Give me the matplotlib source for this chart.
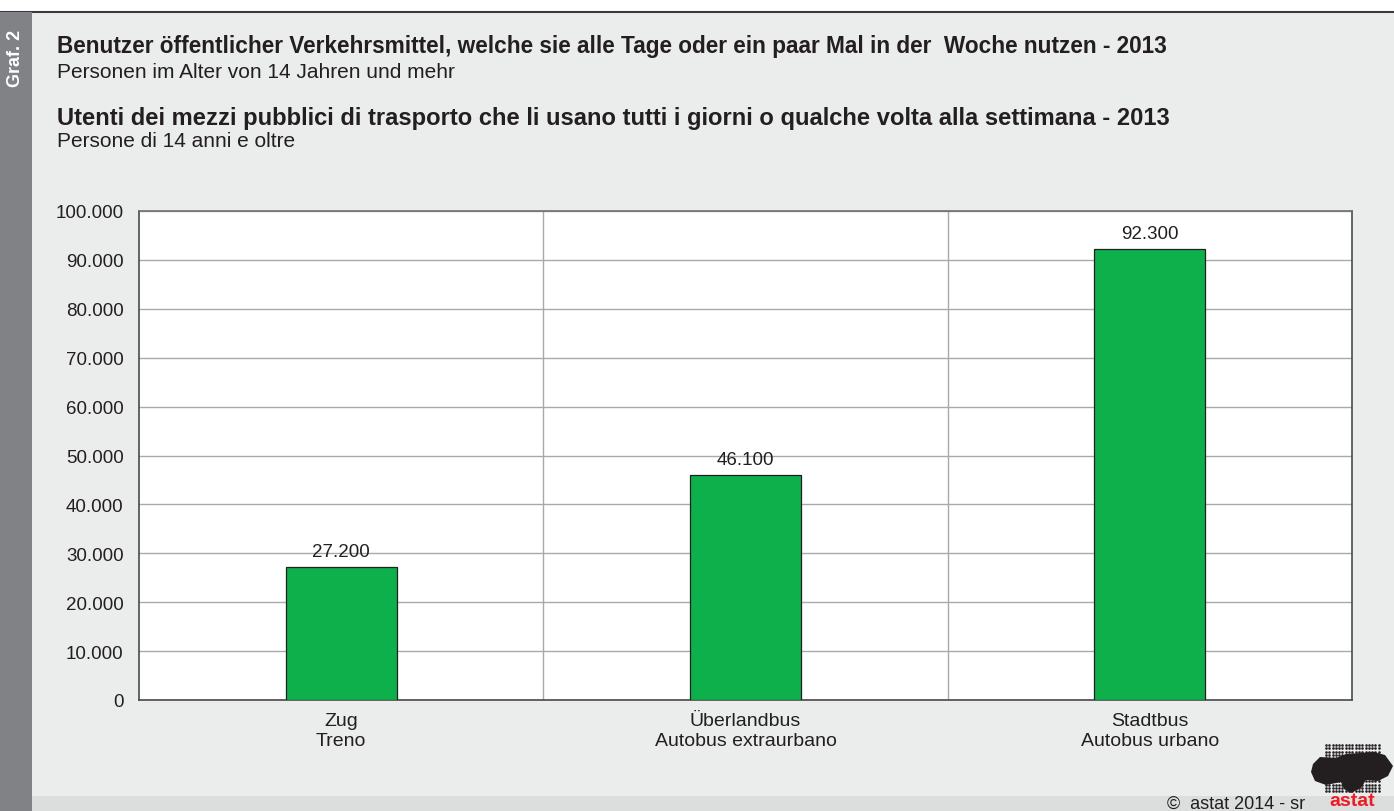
import numpy as np
import matplotlib
matplotlib.use('Agg')
import matplotlib.pyplot as plt
from matplotlib.patches import Rectangle, Polygon

# Chart data.
categories = ['Zug\nTreno', 'Überlandbus\nAutobus extraurbano', 'Stadtbus\nAutobus urbano']
values = [27200, 46100, 92300]
yticks = [0, 10000, 20000, 30000, 40000, 50000, 60000, 70000, 80000, 90000, 100000]

title_de = 'Benutzer öffentlicher Verkehrsmittel, welche sie alle Tage oder ein paar Mal in der  Woche nutzen - 2013'
sub_de = 'Personen im Alter von 14 Jahren und mehr'
title_it = 'Utenti dei mezzi pubblici di trasporto che li usano tutti i giorni o qualche volta alla settimana - 2013'
sub_it = 'Persone di 14 anni e oltre'

def fmt(v):
  return '{:,}'.format(int(v)).replace(',', '.')

plt.rcParams['font.family'] = ['Liberation Sans', 'DejaVu Sans']

W, H = 1394, 812
backgroundColor = '#EBECEC'
barColor = '#0DB04B'
textColor = '#231f20'
gridColor = '#a7a9ac'
frameColor = '#4a4a4a'

fig = plt.figure(figsize=(W / 100, H / 100), dpi=100, facecolor=backgroundColor)

# Background pieces in figure pixel coords (drawn under the axes).
def px(x, y):
  return x / W, 1 - y / H

fig.patches.append(Rectangle(px(0, 13), 1, 13 / H, transform=fig.transFigure,
    facecolor='white', edgecolor='none', zorder=-2))
fig.patches.append(Rectangle(px(0, 812), 1, 15 / H, transform=fig.transFigure,
    facecolor='#DCDDDD', edgecolor='none', zorder=-2))
fig.patches.append(Rectangle(px(0, 812), 32 / W, (812 - 13) / H, transform=fig.transFigure,
    facecolor='#808285', edgecolor='none', zorder=-1))
fig.lines.append(plt.Line2D([0, 1], [1 - 13 / H] * 2, transform=fig.transFigure,
    color='#3a3a3a', lw=1.5, zorder=-1))

fig.text(16 / W, 1 - 58 / H, 'Graf. 2', rotation=90, color='white', fontsize=13,
    fontweight='bold', ha='center', va='center')

# Titles.
fig.text(57 / W, 1 - 47 / H, title_de, fontsize=16.3, fontweight='bold', color=textColor, va='center')
fig.text(57 / W, 1 - 72 / H, sub_de, fontsize=15, color=textColor, va='center')
fig.text(57 / W, 1 - 118 / H, title_it, fontsize=17.1, fontweight='bold', color=textColor, va='center')
fig.text(57 / W, 1 - 142 / H, sub_it, fontsize=15, color=textColor, va='center')

# Plot area.
left, right, top, bottom = 139, 1352, 212, 701
ax = fig.add_axes([left / W, 1 - bottom / H, (right - left) / W, (bottom - top) / H])
ax.set_facecolor('white')

x = np.arange(len(categories))
ax.bar(x, values, width=0.275, color=barColor, edgecolor=textColor, linewidth=0.9, zorder=3)
for xi, v in zip(x, values):
  ax.annotate(fmt(v), (xi, v), xytext=(0, 5), textcoords='offset points', ha='center',
      va='bottom', fontsize=13.5, color=textColor, zorder=4)

ax.set_xlim(-0.5, len(categories) - 0.5)
ax.set_ylim(0, 100000)
ax.set_yticks(yticks)
ax.set_yticklabels([fmt(t) for t in yticks], fontsize=13.5, color=textColor)
ax.set_xticks(x)
ax.set_xticklabels(categories, fontsize=14, color=textColor, linespacing=1.2)
ax.tick_params(axis='y', length=0, pad=11)
ax.tick_params(axis='x', length=0, pad=9)

ax.yaxis.grid(True, color=gridColor, lw=1, zorder=1)
for b in np.arange(0.5, len(categories) - 0.5):
  ax.axvline(b, color=gridColor, lw=1, zorder=1)

for s in ['top', 'right', 'left', 'bottom']:
  ax.spines[s].set_color(frameColor)
  ax.spines[s].set_linewidth(1.2)
ax.spines['top'].set_color('#6d6e71')

# Copyright and logo.
fig.text(1305 / W, 1 - 804 / H, '©  astat 2014 - sr', fontsize=13, color=textColor,
    ha='right', va='center')
fig.text(1352 / W, 1 - 802 / H, 'astat', fontsize=14, fontweight='bold', color='#ED1C24',
    ha='center', va='center')

# Logo in figure pixel coords: dot raster plus a dark silhouette.
lax = fig.add_axes([1300 / W, 1 - 797 / H, 94 / W, 57 / H])
lax.set_xlim(1300, 1394)
lax.set_ylim(797, 740)
lax.axis('off')
gx, gy = np.meshgrid(np.arange(1326, 1379, 3.3), np.arange(746, 795, 3.3))
lax.scatter(gx.ravel(), gy.ravel(), s=3.5, color=textColor, lw=0)
blob = [(1313, 765), (1320, 758), (1336, 759), (1346, 755), (1374, 753), (1385, 756),
        (1393, 767), (1388, 777), (1378, 782), (1366, 781), (1361, 789), (1351, 794),
        (1344, 790), (1341, 783), (1326, 786), (1315, 782), (1311, 773)]
lax.add_patch(Polygon(blob, closed=True, color=textColor, lw=0))

fig.savefig('out.png', dpi=100, facecolor=fig.get_facecolor())
